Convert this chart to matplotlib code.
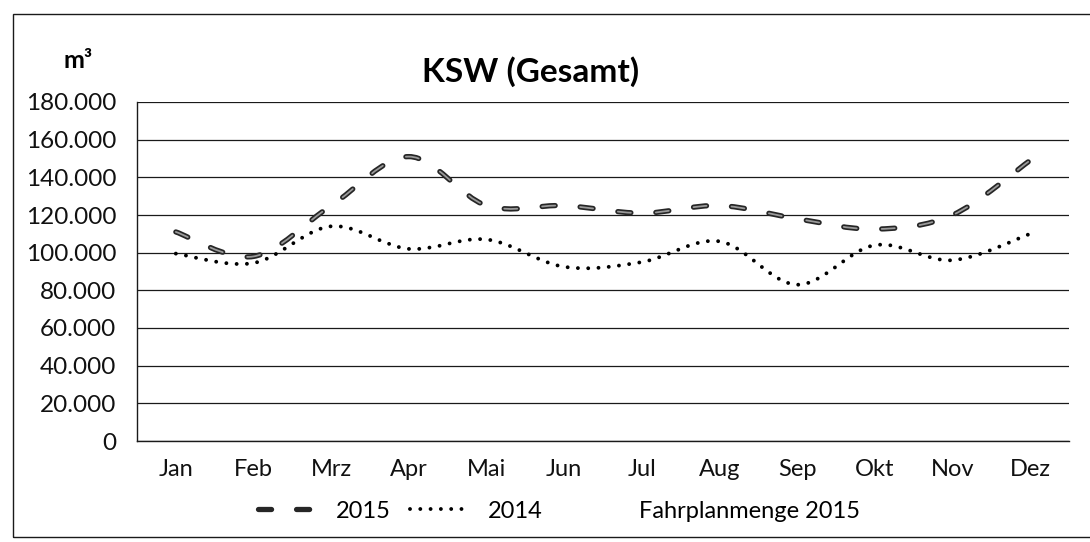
import numpy as np
import matplotlib.pyplot as plt
from matplotlib.path import Path
from matplotlib.patches import PathPatch, Rectangle
from matplotlib.lines import Line2D
from matplotlib.ticker import FixedLocator, FuncFormatter

plt.rcParams['font.family'] = ['Lato', 'DejaVu Sans']
plt.rcParams['lines.scale_dashes'] = False

months = ["Jan", "Feb", "Mrz", "Apr", "Mai", "Jun", "Jul", "Aug", "Sep", "Okt", "Nov", "Dez"]
menge_2015 = [111000, 98000, 125000, 151000, 125000, 125000, 121000, 125000, 118000, 112500, 120000, 149000]
menge_2014 = [99500, 94500, 114000, 102000, 107000, 92500, 95000, 106000, 83000, 104000, 96000, 110000]
y_ticks = [0, 20000, 40000, 60000, 80000, 100000, 120000, 140000, 160000, 180000]
series_labels = ["2015", "2014", "Fahrplanmenge 2015"]

DASH_2015 = (0, (9.4, 18.0))
DOT_2014 = (0, (0.01, 7.4))


def smooth_path(xs, ys):
    """Smoothed line through the points as cubic Bezier segments (Catmull-Rom)."""
    pts = np.column_stack([xs, ys]).astype(float)
    n = len(pts)
    verts = [pts[0]]
    codes = [Path.MOVETO]
    for i in range(n - 1):
        p0 = pts[max(i - 1, 0)]
        p1 = pts[i]
        p2 = pts[i + 1]
        p3 = pts[min(i + 2, n - 1)]
        verts += [p1 + (p2 - p0) / 6, p2 - (p3 - p1) / 6, p2]
        codes += [Path.CURVE4] * 3
    return Path(verts, codes)


def german_thousands(v, _pos):
    return f"{int(round(v)):,}".replace(",", ".")


W, H = 1090, 542
fig = plt.figure(figsize=(W / 100, H / 100), dpi=100)
ax = fig.add_axes([137 / W, 1 - 441 / H, (1069 - 137) / W, (441 - 102) / H])

x = np.arange(len(months))

# 2015: thick dashed line, dark rim with lighter core
path_2015 = smooth_path(x, menge_2015)
ax.add_patch(PathPatch(path_2015, fill=False, edgecolor='#262626', lw=3.8,
                       linestyle=DASH_2015, capstyle='round', zorder=4))
ax.add_patch(PathPatch(path_2015, fill=False, edgecolor='#9a9a9a', lw=1.3,
                       linestyle=DASH_2015, capstyle='round', zorder=5))

# 2014: round dotted line
path_2014 = smooth_path(x, menge_2014)
ax.add_patch(PathPatch(path_2014, fill=False, edgecolor='black', lw=2.8,
                       linestyle=DOT_2014, capstyle='round', zorder=4))

ax.set_xlim(-0.5, len(months) - 0.5)
ax.set_ylim(0, 180000)

ax.yaxis.set_major_locator(FixedLocator(y_ticks))
ax.yaxis.set_major_formatter(FuncFormatter(german_thousands))
ax.set_xticks(x)
ax.set_xticklabels(months)
ax.tick_params(axis='y', length=0, pad=15, labelsize=17.5, labelcolor='#111111')
ax.tick_params(axis='x', length=0, pad=13, labelsize=17, labelcolor='#111111')

ax.grid(axis='y', color='#1a1a1a', lw=0.9)
ax.set_axisbelow(True)
for side in ('top', 'right'):
    ax.spines[side].set_visible(False)
ax.spines['left'].set_color('#1a1a1a')
ax.spines['bottom'].set_color('#1a1a1a')
ax.spines['left'].set_linewidth(1.0)
ax.spines['bottom'].set_linewidth(1.0)

fig.text(531 / W, 1 - 72 / H, "KSW (Gesamt)", ha='center', va='center',
         fontsize=24, fontweight='bold')
fig.text(78 / W, 1 - 60 / H, "m³", ha='center', va='center',
         fontsize=18, fontweight='bold')

handles = [
    Line2D([], [], color='#262626', lw=3.8, linestyle=DASH_2015, dash_capstyle='round'),
    Line2D([], [], color='black', lw=2.8, linestyle=DOT_2014, dash_capstyle='round'),
    Line2D([], [], color='none'),
]
fig.legend(handles, series_labels, ncol=3, loc='center',
           bbox_to_anchor=(559 / W, 1 - 511 / H), frameon=False, fontsize=17,
           handlelength=2.6, handletextpad=0.7, columnspacing=0.8)

# outer chart frame
fig.patches.append(Rectangle((13 / W, 1 - 537 / H), 1.2, (537 - 14) / H,
                             transform=fig.transFigure, fill=False,
                             edgecolor='#1a1a1a', lw=1.0))

fig.savefig("out.png", dpi=100)
